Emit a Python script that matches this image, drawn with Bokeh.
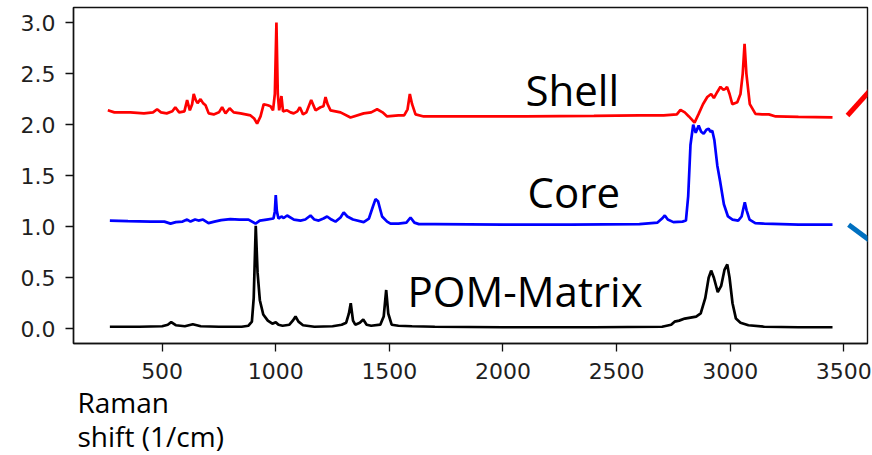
from bokeh.plotting import figure
from bokeh.models import Range1d, FixedTicker, PrintfTickFormatter, Label, Title
from bokeh.embed import file_html
from bokeh.resources import INLINE

# ---- data (Raman shift in 1/cm, stacked intensities) ----
pom_x = [270, 400, 500, 525, 540, 560, 600, 635, 670, 750, 850, 880, 895, 903, 912, 920, 930, 945, 965, 985,
         1000, 1012, 1030, 1060, 1075, 1087, 1100, 1120, 1170, 1250, 1290, 1310, 1322, 1330, 1340, 1350, 1370, 1385, 1400, 1420,
         1460, 1475, 1486, 1495, 1510, 1540, 1600, 1700, 2000, 2400, 2700, 2740, 2755, 2775, 2800, 2825, 2850, 2870, 2890, 2905,
         2916, 2928, 2945, 2960, 2975, 2987, 2997, 3010, 3025, 3045, 3080, 3150, 3300, 3450]
pom_y = [0.02, 0.02, 0.025, 0.04, 0.065, 0.035, 0.025, 0.045, 0.025, 0.02, 0.02, 0.03, 0.07, 0.3, 1.01, 0.55, 0.28, 0.14, 0.08, 0.05,
         0.065, 0.04, 0.03, 0.04, 0.08, 0.12, 0.07, 0.035, 0.02, 0.025, 0.04, 0.06, 0.15, 0.25, 0.08, 0.04, 0.06, 0.09, 0.04, 0.03,
         0.04, 0.12, 0.38, 0.15, 0.04, 0.03, 0.025, 0.02, 0.015, 0.015, 0.02, 0.04, 0.07, 0.08, 0.1, 0.11, 0.12, 0.15, 0.3, 0.5,
         0.57, 0.5, 0.36, 0.42, 0.58, 0.63, 0.5, 0.25, 0.1, 0.06, 0.035, 0.02, 0.015, 0.015]

core_x = [270, 350, 450, 510, 537, 560, 590, 610, 625, 645, 660, 680, 704, 730, 760, 800, 840, 880, 911, 930,
          960, 990, 996, 1000, 1005, 1012, 1025, 1035, 1050, 1080, 1109, 1130, 1153, 1170, 1189, 1210, 1226, 1245, 1263, 1285,
          1299, 1315, 1340, 1387, 1410, 1428, 1439, 1450, 1468, 1490, 1505, 1540, 1575, 1593, 1610, 1630, 1700, 2000, 2300, 2600,
          2680, 2700, 2712, 2725, 2750, 2790, 2805, 2815, 2825, 2837, 2848, 2861, 2872, 2883, 2895, 2905, 2913, 2921, 2930, 2943,
          2955, 2972, 2990, 3010, 3035, 3050, 3058, 3064, 3072, 3085, 3110, 3150, 3300, 3450]
core_y = [1.06, 1.055, 1.05, 1.05, 1.03, 1.045, 1.05, 1.07, 1.05, 1.07, 1.06, 1.07, 1.035, 1.05, 1.065, 1.075, 1.07, 1.07, 1.03, 1.06,
          1.07, 1.08, 1.15, 1.31, 1.15, 1.08, 1.1, 1.085, 1.11, 1.07, 1.06, 1.07, 1.11, 1.07, 1.06, 1.08, 1.10, 1.07, 1.05, 1.09,
          1.14, 1.1, 1.07, 1.045, 1.08, 1.2, 1.27, 1.25, 1.1, 1.05, 1.03, 1.03, 1.04, 1.09, 1.04, 1.025, 1.025, 1.02, 1.02, 1.025,
          1.04, 1.08, 1.11, 1.07, 1.045, 1.05, 1.06, 1.3, 1.8, 2.0, 1.92, 1.99, 1.93, 1.91, 1.95, 1.96, 1.93, 1.94, 1.85, 1.6,
          1.45, 1.22, 1.1, 1.07, 1.06, 1.1, 1.18, 1.24, 1.16, 1.07, 1.035, 1.03, 1.02, 1.02]

shell_x = [261, 290, 320, 360, 420, 460, 478, 495, 520, 545, 558, 575, 598, 610, 622, 632, 639, 648, 656, 669,
           680, 691, 705, 727, 750, 764, 779, 797, 815, 845, 889, 905, 918, 933, 947, 965, 977, 988, 996, 1003,
           1009, 1015, 1020, 1025, 1032, 1050, 1065, 1079, 1095, 1106, 1120, 1135, 1156, 1175, 1197, 1210, 1219, 1228, 1241, 1285,
           1329, 1387, 1420, 1446, 1470, 1490, 1540, 1565, 1580, 1590, 1600, 1615, 1651, 1800, 2100, 2400, 2600, 2707, 2765, 2781,
           2800, 2818, 2843, 2860, 2880, 2899, 2916, 2928, 2943, 2957, 2970, 2979, 2986, 2997, 3009, 3031, 3045, 3055, 3063, 3071,
           3086, 3111, 3140, 3170, 3200, 3300, 3450]
shell_y = [2.14, 2.12, 2.12, 2.12, 2.11, 2.12, 2.15, 2.12, 2.11, 2.13, 2.17, 2.12, 2.13, 2.24, 2.14, 2.2, 2.3, 2.24, 2.21, 2.25,
           2.21, 2.19, 2.11, 2.1, 2.12, 2.17, 2.11, 2.16, 2.12, 2.11, 2.09, 2.06, 2.01, 2.08, 2.2, 2.19, 2.18, 2.14, 2.3, 3.0,
           2.3, 2.14, 2.2, 2.28, 2.13, 2.14, 2.12, 2.11, 2.13, 2.17, 2.1, 2.12, 2.24, 2.14, 2.17, 2.18, 2.27, 2.2, 2.14, 2.12,
           2.07, 2.11, 2.12, 2.15, 2.12, 2.08, 2.09, 2.09, 2.15, 2.3, 2.2, 2.1, 2.08, 2.08, 2.08, 2.085, 2.09, 2.09, 2.1, 2.145,
           2.12, 2.08, 2.02, 2.1, 2.2, 2.27, 2.30, 2.26, 2.32, 2.37, 2.34, 2.35, 2.37, 2.3, 2.2, 2.22, 2.3, 2.5, 2.79, 2.5,
           2.2, 2.105, 2.1, 2.1, 2.08, 2.075, 2.07]

assert len(pom_x) == len(pom_y) and len(core_x) == len(core_y) and len(shell_x) == len(shell_y)

x_ticks = [500, 1000, 1500, 2000, 2500, 3000, 3500]
y_ticks = [0.0, 0.5, 1.0, 1.5, 2.0, 2.5, 3.0]

series_names = ["POM-Matrix", "Core", "Shell"]
axis_title = "Raman\nshift (1/cm)"

# ---- figure ----
p = figure(width=872, height=455, output_backend="svg", toolbar_location=None,
           x_range=Range1d(110, 3604), y_range=Range1d(-0.144, 3.147),
           min_border_left=73, min_border_right=5, min_border_top=7, min_border_bottom=112)
p.background_fill_color = "white"
p.border_fill_color = "white"
p.outline_line_color = "#111111"
p.outline_line_width = 1.4
p.grid.visible = False

for ax, ticks, fmt in ((p.xaxis, x_ticks, "%d"), (p.yaxis, y_ticks, "%.1f")):
    ax.ticker = FixedTicker(ticks=ticks)
    ax.formatter = PrintfTickFormatter(format=fmt)
    ax.minor_tick_line_color = None
    ax.major_tick_in = 0
    ax.major_tick_out = 8
    ax.major_tick_line_width = 1.3
    ax.major_tick_line_color = "#111111"
    ax.axis_line_color = "#111111"
    ax.axis_line_width = 1.4
    ax.major_label_text_font = "DejaVu Sans"
    ax.major_label_text_font_size = "22px"
    ax.major_label_text_color = "#1f1f1f"
p.xaxis.major_label_standoff = 11
p.yaxis.major_label_standoff = 10

p.line(pom_x, pom_y, line_color="#000000", line_width=2.7)
p.line(core_x, core_y, line_color="#0000ff", line_width=2.7)
p.line(shell_x, shell_y, line_color="#ff0000", line_width=2.7)

# series labels inside the plot
label_pos = {"Shell": (2099, 2.345), "Core": (2108, 1.345), "POM-Matrix": (1580, 0.375)}
for name in series_names:
    lx, ly = label_pos[name]
    p.add_layout(Label(x=lx, y=ly, text=name, text_font="Open Sans", text_font_size="42px",
                       text_color="#000000", text_baseline="alphabetic", text_align="left"))

# axis title: two lines, left aligned below the axis
p.add_layout(Title(text=axis_title, align="left", offset=4, standoff=0,
                   text_font="Open Sans", text_font_size="28px", text_font_style="normal",
                   text_color="#000000", text_line_height=0.9), "below")

# slide connector fragments at the right edge
p.segment(x0=[3516], y0=[2.089], x1=[3630], y1=[2.37], line_color="#ff0000", line_width=5)
p.segment(x0=[3521], y0=[1.02], x1=[3630], y1=[0.84], line_color="#0070c0", line_width=5)

open("out.html", "w").write(file_html(p, INLINE))
